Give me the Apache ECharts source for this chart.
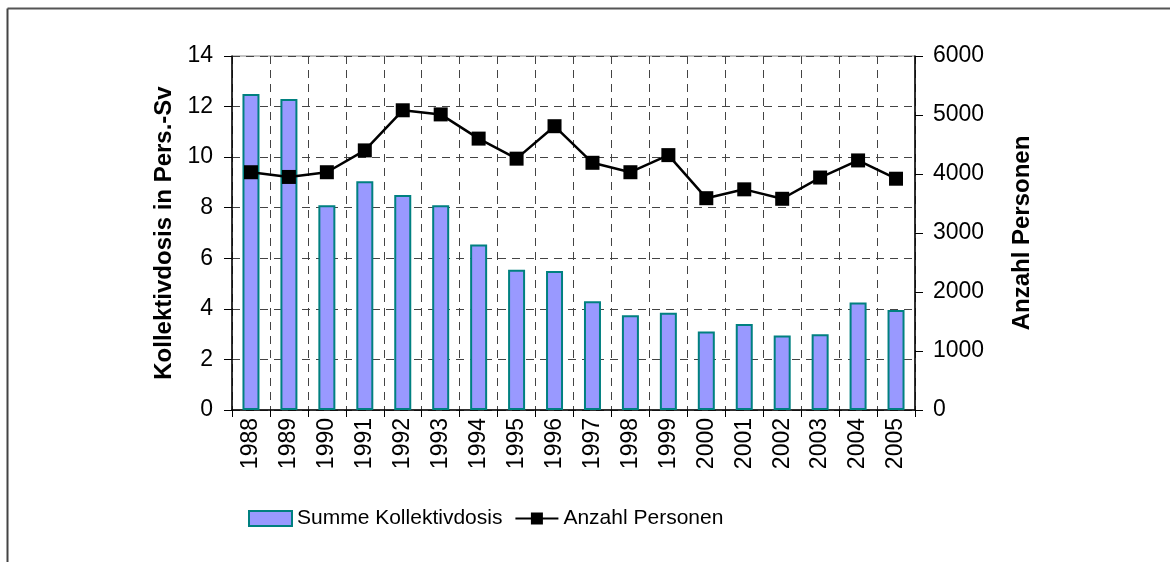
<!DOCTYPE html>
<html>
<head>
<meta charset="utf-8">
<script src="https://cdn.jsdelivr.net/npm/echarts@6/dist/echarts.min.js"></script>
<style>
    html, body { margin: 0; padding: 0; background: #fff; }
    #chart { width: 1170px; height: 562px; }
</style>
</head>
<body>
<div id="chart"></div>
<script>
var years = ['1988', '1989', '1990', '1991', '1992', '1993', '1994', '1995', '1996',
    '1997', '1998', '1999', '2000', '2001', '2002', '2003', '2004', '2005'];
// Summe Kollektivdosis (Pers.-Sv)
var kollektivdosis = [12.5, 12.3, 8.1, 9.05, 8.5, 8.1, 6.55, 5.55, 5.5,
    4.3, 3.75, 3.85, 3.1, 3.4, 2.95, 3.0, 4.25, 3.95];
// Anzahl Personen
var personen = [4030, 3950, 4030, 4400, 5080, 5010, 4600, 4260, 4810,
    4190, 4030, 4320, 3590, 3740, 3580, 3940, 4230, 3920];

var font = 'Liberation Sans, Arial, sans-serif';
var chart = echarts.init(document.getElementById('chart'));

chart.setOption({
    animation: false,
    textStyle: { fontFamily: font, color: '#000' },
    graphic: [
        { type: 'line', shape: { x1: 7.5, y1: 8.5, x2: 1170, y2: 8.5 }, style: { stroke: '#555', lineWidth: 2 } },
        { type: 'line', shape: { x1: 7.5, y1: 8.5, x2: 7.5, y2: 562 }, style: { stroke: '#444', lineWidth: 2 } }
    ],
    grid: {
        left: 232, top: 56, width: 683, height: 354,
        show: true, borderColor: '#888', borderWidth: 1
    },
    legend: {
        left: 243, top: 503,
        itemWidth: 43, itemHeight: 15, itemGap: 12,
        textStyle: { fontFamily: font, fontSize: 21, color: '#000' },
        data: [{ name: 'Summe Kollektivdosis', icon: 'rect' }, 'Anzahl Personen']
    },
    xAxis: {
        type: 'category',
        data: years,
        boundaryGap: true,
        axisLine: { lineStyle: { color: '#000', width: 1.5 } },
        axisTick: { show: true, interval: 0, length: 7, lineStyle: { color: '#000' } },
        axisLabel: { interval: 0, rotate: 90, fontSize: 23, margin: 8, color: '#000', fontFamily: font },
        splitLine: { show: true, interval: 0, lineStyle: { type: [8, 6], color: '#444', width: 1 } }
    },
    yAxis: [{
        type: 'value',
        min: 0, max: 14, interval: 2,
        name: 'Kollektivdosis in Pers.-Sv',
        nameLocation: 'middle',
        nameRotate: 90,
        nameGap: 56,
        nameTextStyle: { fontFamily: font, fontSize: 24, fontWeight: 'bold', color: '#000' },
        axisLine: { show: true, lineStyle: { color: '#000', width: 1.5 } },
        axisTick: { show: true, length: 8, lineStyle: { color: '#000' } },
        axisLabel: { fontSize: 23, margin: 19, color: '#000', fontFamily: font },
        splitLine: { show: true, lineStyle: { type: [8, 6], color: '#444', width: 1 } }
    }, {
        type: 'value',
        position: 'right',
        min: 0, max: 6000, interval: 1000,
        name: 'Anzahl Personen',
        nameLocation: 'middle',
        nameRotate: 90,
        nameGap: 95,
        nameTextStyle: { fontFamily: font, fontSize: 24, fontWeight: 'bold', color: '#000' },
        axisLine: { show: true, lineStyle: { color: '#000', width: 1.5 } },
        axisTick: { show: true, length: 8, lineStyle: { color: '#000' } },
        axisLabel: {
            fontSize: 23, margin: 18, color: '#000', fontFamily: font,
            formatter: function (v) { return String(v); }
        },
        splitLine: { show: false }
    }],
    series: [{
        name: 'Summe Kollektivdosis',
        type: 'bar',
        yAxisIndex: 0,
        barWidth: 17,
        data: kollektivdosis,
        itemStyle: { color: '#9999FF', borderColor: '#008080', borderWidth: 2 }
    }, {
        name: 'Anzahl Personen',
        type: 'line',
        yAxisIndex: 1,
        data: personen,
        symbol: 'rect',
        symbolSize: 14,
        lineStyle: { color: '#000', width: 2.5 },
        itemStyle: { color: '#000' }
    }]
});
</script>
</body>
</html>
